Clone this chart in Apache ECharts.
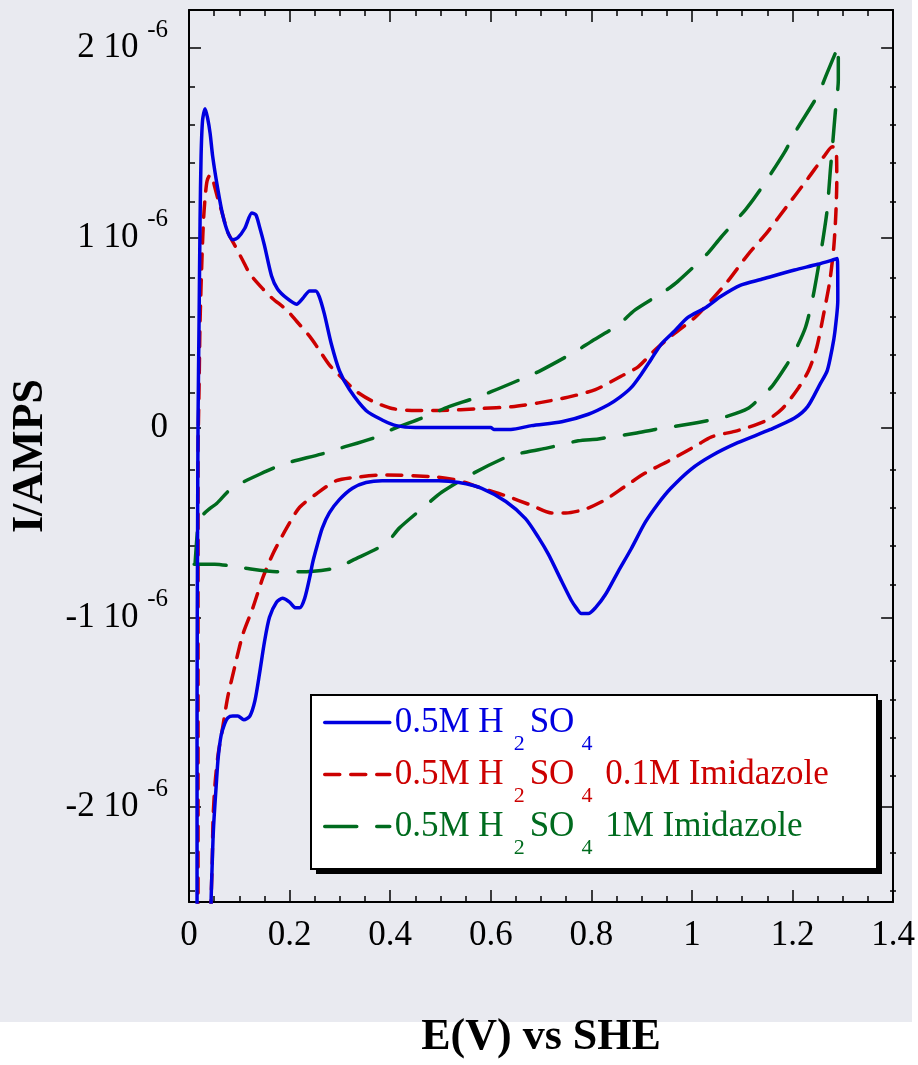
<!DOCTYPE html>
<html>
<head>
<meta charset="utf-8">
<script src="https://cdn.jsdelivr.net/npm/echarts@6.0.0/dist/echarts.min.js"></script>
<style>html,body{margin:0;padding:0;background:#fff;}#chart{width:918px;height:1065px;}</style>
</head>
<body>
<div id="chart"></div>
<script>
// Potential E (V vs SHE), current in units of 10^-6 A
const seriesNames = ['0.5M H2SO4', '0.5M H2SO4 0.1M Imidazole', '0.5M H2SO4 1M Imidazole'];
const xTickValues = [0, 0.2, 0.4, 0.6, 0.8, 1, 1.2, 1.4];
const yMajorTicks = [-2, -1, 0, 1, 2];
const yMinorTicks = [-2.4, -2.2, -1.8, -1.6, -1.4, -1.2, -0.8, -0.6, -0.4, -0.2, 0.2, 0.4, 0.6, 0.8, 1.2, 1.4, 1.6, 1.8];

const blueLoop = [
  [0.016, -3.0], [0.016, -2.5], [0.016, -1.5], [0.017, -0.6], [0.018, 0.04], [0.020, 0.56],
  [0.022, 1.09], [0.024, 1.43], [0.027, 1.62], [0.032, 1.68], [0.037, 1.63], [0.042, 1.55],
  [0.047, 1.43], [0.057, 1.26], [0.067, 1.12], [0.077, 1.03], [0.087, 0.99], [0.097, 1.00],
  [0.111, 1.05], [0.125, 1.13], [0.133, 1.12], [0.140, 1.06], [0.150, 0.96], [0.164, 0.80],
  [0.176, 0.73], [0.195, 0.68], [0.214, 0.65], [0.226, 0.68], [0.240, 0.72], [0.252, 0.72],
  [0.259, 0.69], [0.269, 0.60], [0.283, 0.44], [0.299, 0.30], [0.319, 0.20], [0.352, 0.09],
  [0.384, 0.04], [0.412, 0.01], [0.450, 0.00], [0.600, 0.00], [0.606, -0.01], [0.640, -0.01],
  [0.681, 0.01], [0.741, 0.03], [0.794, 0.07], [0.834, 0.12], [0.857, 0.16], [0.879, 0.21],
  [0.899, 0.28], [0.919, 0.36], [0.939, 0.44], [0.966, 0.51], [0.992, 0.58], [1.026, 0.63],
  [1.057, 0.69], [1.097, 0.75], [1.137, 0.78], [1.204, 0.83], [1.250, 0.86], [1.289, 0.89],
  [1.290, 0.67], [1.284, 0.50], [1.279, 0.42], [1.269, 0.30], [1.255, 0.23], [1.230, 0.11],
  [1.204, 0.05], [1.156, -0.01], [1.091, -0.08], [1.038, -0.15], [0.998, -0.22], [0.958, -0.32],
  [0.933, -0.40], [0.907, -0.50], [0.879, -0.64], [0.853, -0.76], [0.828, -0.88], [0.808, -0.95],
  [0.794, -0.98], [0.780, -0.98], [0.770, -0.95], [0.760, -0.91], [0.741, -0.81], [0.715, -0.67],
  [0.695, -0.58], [0.669, -0.48], [0.630, -0.39], [0.582, -0.32], [0.537, -0.29], [0.497, -0.28],
  [0.384, -0.28], [0.352, -0.29], [0.325, -0.32], [0.299, -0.38], [0.279, -0.45], [0.265, -0.53],
  [0.255, -0.62], [0.246, -0.71], [0.240, -0.79], [0.230, -0.90], [0.220, -0.95], [0.212, -0.95],
  [0.200, -0.92], [0.186, -0.90], [0.174, -0.92], [0.160, -1.00], [0.150, -1.13], [0.140, -1.30],
  [0.131, -1.44], [0.121, -1.52], [0.109, -1.54], [0.097, -1.52], [0.087, -1.52], [0.077, -1.53],
  [0.071, -1.56], [0.064, -1.62], [0.058, -1.74], [0.054, -1.89], [0.050, -2.05], [0.048, -2.15],
  [0.046, -2.31], [0.044, -2.49], [0.042, -3.0], [0.016, -3.0]
];

const redLoop = [
  [0.018, -3.0], [0.018, -2.5], [0.018, -1.0], [0.018, -0.14], [0.020, 0.21], [0.022, 0.56],
  [0.026, 0.91], [0.029, 1.10], [0.032, 1.21], [0.036, 1.30], [0.042, 1.33], [0.046, 1.32],
  [0.051, 1.27], [0.057, 1.21], [0.065, 1.14], [0.077, 1.03], [0.091, 0.96], [0.107, 0.88],
  [0.121, 0.81], [0.147, 0.73], [0.166, 0.68], [0.194, 0.62], [0.214, 0.56], [0.240, 0.48],
  [0.256, 0.42], [0.279, 0.33], [0.305, 0.26], [0.333, 0.19], [0.364, 0.14], [0.404, 0.10],
  [0.451, 0.09], [0.500, 0.09], [0.580, 0.10], [0.642, 0.11], [0.695, 0.13], [0.754, 0.16],
  [0.808, 0.20], [0.859, 0.27], [0.893, 0.32], [0.927, 0.41], [0.958, 0.48], [1.006, 0.58],
  [1.038, 0.67], [1.071, 0.77], [1.111, 0.91], [1.150, 1.03], [1.190, 1.17], [1.230, 1.31],
  [1.263, 1.43], [1.279, 1.48], [1.287, 1.46], [1.288, 1.30], [1.286, 1.12], [1.282, 0.95],
  [1.274, 0.77], [1.262, 0.60], [1.248, 0.42], [1.232, 0.30], [1.212, 0.21], [1.180, 0.10],
  [1.150, 0.04], [1.111, 0.00], [1.085, -0.02], [1.038, -0.05], [1.012, -0.09], [0.958, -0.17],
  [0.907, -0.24], [0.867, -0.31], [0.828, -0.38], [0.788, -0.43], [0.749, -0.45], [0.721, -0.45],
  [0.681, -0.41], [0.630, -0.36], [0.582, -0.32], [0.537, -0.28], [0.491, -0.26], [0.384, -0.25],
  [0.339, -0.26], [0.293, -0.28], [0.253, -0.35], [0.220, -0.42], [0.194, -0.53], [0.166, -0.67],
  [0.147, -0.79], [0.127, -0.95], [0.107, -1.09], [0.091, -1.26], [0.077, -1.42], [0.067, -1.58],
  [0.058, -1.72], [0.052, -1.87], [0.048, -2.05], [0.046, -2.31], [0.044, -2.49], [0.042, -3.0],
  [0.018, -3.0]
];

const greenLoop = [
  [0.012, -0.72], [0.016, -0.57], [0.018, -0.53], [0.028, -0.46], [0.040, -0.43], [0.055, -0.40],
  [0.085, -0.32], [0.154, -0.23], [0.190, -0.19], [0.263, -0.14], [0.299, -0.11], [0.362, -0.06],
  [0.404, -0.01], [0.463, 0.05], [0.517, 0.11], [0.562, 0.15], [0.602, 0.19], [0.665, 0.26],
  [0.699, 0.30], [0.768, 0.40], [0.798, 0.45], [0.853, 0.54], [0.887, 0.62], [0.947, 0.72],
  [0.972, 0.77], [1.032, 0.92], [1.057, 1.00], [1.107, 1.15], [1.135, 1.25], [1.184, 1.45],
  [1.206, 1.56], [1.250, 1.75], [1.269, 1.87], [1.291, 2.01], [1.291, 1.83], [1.285, 1.66],
  [1.279, 1.47], [1.275, 1.35], [1.269, 1.15], [1.261, 1.00], [1.251, 0.84], [1.240, 0.68],
  [1.226, 0.53], [1.206, 0.41], [1.186, 0.32], [1.160, 0.22], [1.137, 0.16], [1.111, 0.10],
  [1.071, 0.06], [1.038, 0.04], [0.998, 0.02], [0.927, -0.01], [0.887, -0.03], [0.814, -0.06],
  [0.774, -0.07], [0.709, -0.11], [0.669, -0.13], [0.636, -0.15], [0.566, -0.24], [0.503, -0.34],
  [0.471, -0.41], [0.418, -0.53], [0.392, -0.61], [0.325, -0.70], [0.293, -0.74], [0.220, -0.76],
  [0.174, -0.76], [0.107, -0.74], [0.051, -0.72], [0.008, -0.72]
];

const FONT = '"Liberation Serif", "Times New Roman", Times, serif';
const BLUE = '#0000e0', RED = '#cc0000', GREEN = '#006b1e';
const LW = 3.5;
const chart = echarts.init(document.getElementById('chart'), null, {renderer: 'canvas'});

const tickLine = {color: '#000', width: 1.5};
const frameLine = {show: true, onZero: false, lineStyle: {color: '#000', width: 2}};
const subKeys = ['b', 'r', 'g'];
const tails = ['', ' 0.1M Imidazole', ' 1M Imidazole'];
function mainStyle(c) { return {color: c, fontSize: 35, fontFamily: FONT, lineHeight: 35}; }
function sub2Style(c) { return {color: c, fontSize: 22, fontFamily: FONT, lineHeight: 22, padding: [43, 5, 0, 10]}; }
function sub4Style(c) { return {color: c, fontSize: 22, fontFamily: FONT, lineHeight: 22, padding: [43, 4, 0, 7]}; }

const richLegend = {};
[['b', BLUE], ['r', RED], ['g', GREEN]].forEach(function (p) {
  richLegend[p[0]] = mainStyle(p[1]);
  richLegend[p[0] + '2'] = sub2Style(p[1]);
  richLegend[p[0] + '4'] = sub4Style(p[1]);
});

const option = {
  backgroundColor: '#ffffff',
  animation: false,
  graphic: [
    {type: 'rect', z: -10, silent: true, shape: {x: 0, y: 0, width: 912, height: 1022}, style: {fill: '#e9eaf0'}},
    {type: 'rect', z: 10, silent: true, shape: {x: 316, y: 700, width: 566, height: 174}, style: {fill: '#000000'}},
    {type: 'rect', z: 11, silent: true, shape: {x: 311, y: 695, width: 566, height: 174},
      style: {fill: '#ffffff', stroke: '#000', lineWidth: 2}}
  ],
  grid: [
    {left: 189, right: 22, top: 10, bottom: 155, show: false},
    {left: 189, right: 22, top: 10, bottom: 155, show: false}
  ],
  legend: {
    orient: 'vertical', left: 323, top: 690, padding: 0, z: 20,
    itemWidth: 65, itemHeight: 1, itemGap: -13, selectedMode: false,
    lineStyle: {width: LW},
    data: seriesNames,
    formatter: function (name) {
      const i = seriesNames.indexOf(name);
      const k = subKeys[i];
      let s = '{' + k + '|0.5M H}{' + k + '2|2}{' + k + '|SO}{' + k + '4|4}';
      if (tails[i]) s += '{' + k + '|' + tails[i] + '}';
      return s;
    },
    textStyle: {fontFamily: FONT, fontSize: 35, rich: richLegend}
  },
  xAxis: [
    {
      gridIndex: 0, type: 'value', position: 'bottom', min: 0, max: 1.4, interval: 0.2,
      axisLine: frameLine,
      axisTick: {inside: true, length: 12, lineStyle: tickLine},
      minorTick: {show: true, splitNumber: 4, length: 6, lineStyle: tickLine},
      splitLine: {show: false},
      axisLabel: {fontSize: 35, fontFamily: FONT, color: '#000', margin: 16,
        customValues: xTickValues, formatter: function (v) { return String(Math.round(v * 10) / 10); }},
      name: 'E(V) vs SHE', nameLocation: 'middle', nameGap: 114,
      nameTextStyle: {fontSize: 44, fontWeight: 'bold', fontFamily: FONT, color: '#000'}
    },
    {
      gridIndex: 0, type: 'value', position: 'top', min: 0, max: 1.4, interval: 0.2,
      axisLine: frameLine,
      axisTick: {inside: true, length: 12, lineStyle: tickLine},
      minorTick: {show: true, splitNumber: 4, length: 6, lineStyle: tickLine},
      splitLine: {show: false}, axisLabel: {show: false}
    },
    {gridIndex: 1, type: 'value', min: 0, max: 1.4, show: false}
  ],
  yAxis: [
    {
      gridIndex: 0, type: 'value', position: 'left', min: -2.5, max: 2.2,
      axisLine: frameLine,
      axisTick: {inside: true, length: 12, lineStyle: tickLine, customValues: yMajorTicks},
      splitLine: {show: false},
      axisLabel: {
        customValues: yMajorTicks, margin: 21, color: '#000', fontFamily: FONT, fontSize: 35,
        formatter: function (v) {
          if (Math.abs(v) < 1e-9) return '{m|0}';
          return '{m|' + Math.round(v) + ' 10 }{s|-6}';
        },
        rich: {
          m: {fontSize: 35, fontFamily: FONT, color: '#000', lineHeight: 35},
          s: {fontSize: 25, fontFamily: FONT, color: '#000', lineHeight: 25, padding: [0, 0, 36, 0]}
        }
      },
      name: 'I/AMPS', nameLocation: 'middle', nameGap: 136, nameRotate: 90,
      nameTextStyle: {fontSize: 44, fontWeight: 'bold', fontFamily: FONT, color: '#000'}
    },
    {
      gridIndex: 0, type: 'value', position: 'right', min: -2.5, max: 2.2,
      axisLine: frameLine,
      axisTick: {inside: true, length: 12, lineStyle: tickLine, customValues: yMajorTicks},
      splitLine: {show: false}, axisLabel: {show: false}
    },
    {
      gridIndex: 1, type: 'value', position: 'left', min: -2.5, max: 2.2,
      axisLine: {show: false},
      axisTick: {inside: true, length: 6, lineStyle: tickLine, customValues: yMinorTicks},
      splitLine: {show: false}, axisLabel: {show: false}
    },
    {
      gridIndex: 1, type: 'value', position: 'right', min: -2.5, max: 2.2,
      axisLine: {show: false},
      axisTick: {inside: true, length: 6, lineStyle: tickLine, customValues: yMinorTicks},
      splitLine: {show: false}, axisLabel: {show: false}
    }
  ],
  series: [
    {
      name: seriesNames[0], type: 'line', xAxisIndex: 0, yAxisIndex: 0, data: blueLoop,
      symbol: 'none', smooth: 0.25, clip: true, z: 4,
      lineStyle: {color: BLUE, width: LW, type: 'solid', cap: 'round', join: 'round'},
      itemStyle: {color: BLUE}
    },
    {
      name: seriesNames[1], type: 'line', xAxisIndex: 0, yAxisIndex: 0, data: redLoop,
      symbol: 'none', smooth: 0.25, clip: true, z: 3,
      lineStyle: {color: RED, width: LW, type: [15, 11], cap: 'round', join: 'round'},
      itemStyle: {color: RED}
    },
    {
      name: seriesNames[2], type: 'line', xAxisIndex: 0, yAxisIndex: 0, data: greenLoop,
      symbol: 'none', smooth: 0.25, clip: true, z: 3,
      lineStyle: {color: GREEN, width: LW, type: [32, 20], cap: 'round', join: 'round'},
      itemStyle: {color: GREEN}
    }
  ]
};
chart.setOption(option);
</script>
</body>
</html>
